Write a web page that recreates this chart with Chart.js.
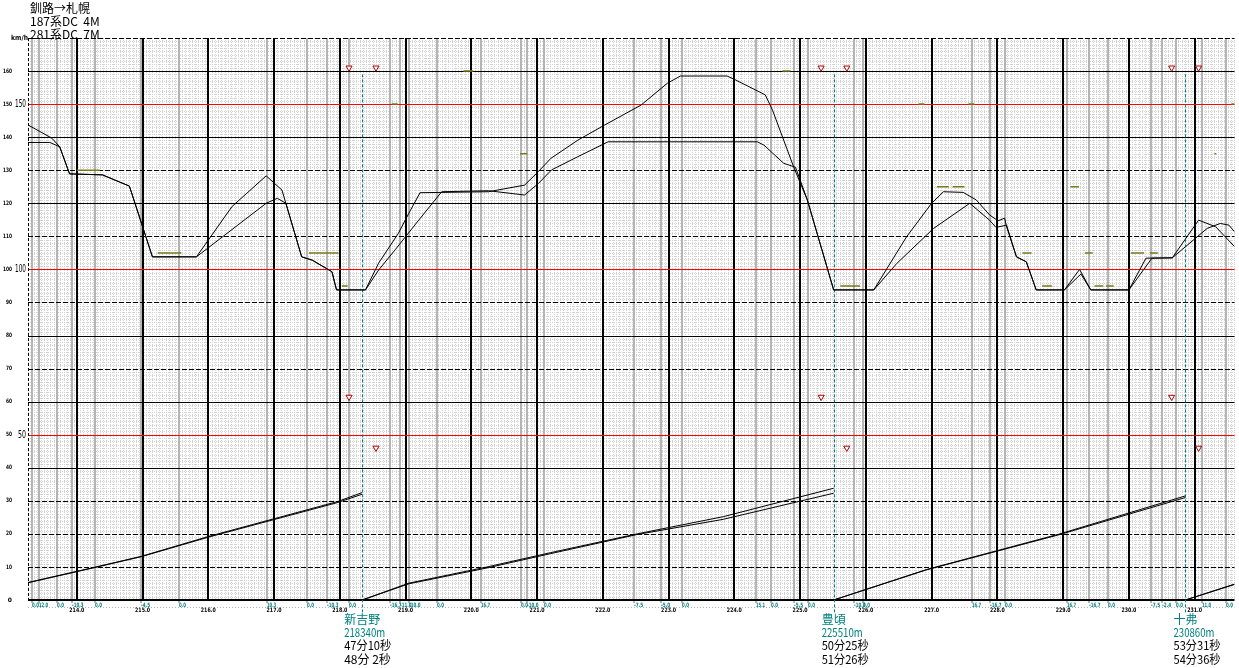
<!DOCTYPE html>
<html><head><meta charset="utf-8">
<script src="https://cdn.jsdelivr.net/npm/chart.js@4/dist/chart.umd.min.js"></script>
<style>html,body{margin:0;padding:0;background:#fff;overflow:hidden}#wrap{width:1239px;height:668px;position:relative}</style>
</head><body><div id="wrap"><canvas id="c" width="1239" height="668"></canvas></div>
<script>
// ---------- data ----------
const titleLines = ["釧路→札幌", "187系DC  4M", "281系DC  7M"];
const kmTicks = [214,215,216,217,218,219,220,221,222,223,224,225,226,227,228,229,230,231];
const kmTickLabels = ["214.0","215.0","216.0","217.0","218.0","219.0","220.0","221.0","222.0","223.0","224.0","225.0","226.0","227.0","228.0","229.0","230.0","231.0"];
const speedTicks = [0,10,20,30,40,50,60,70,80,90,100,110,120,130,140,150,160];
const speedMajorLabels = [50,100,150];

// gradient change points (km) and gradient labels (‰)
const gradeKm = [213.32,213.42,213.70,213.92,214.27,214.97,215.56,216.89,217.50,217.80,218.14,218.77,218.91,219.05,219.48,220.15,220.76,220.85,221.11,222.48,222.89,223.21,224.33,224.56,224.91,225.12,225.82,225.95,227.61,227.89,228.12,229.06,229.39,229.68,230.33,230.50,230.71,231.11,231.47];
const gradeLabels = ["0.0","12.0","0.0","-10.3","0.0","-4.5","0.0","10.3","0.0","-10.3","0.0","-16.7","-11.0","-10.0","0.0","16.7","0.0","-10.0","0.0","-7.5","-5.0","0.0","15.1","0.0","-5.5","0.0","-10.3","0.0","16.7","-16.7","0.0","16.7","-16.7","0.0","-7.5","-2.4","0.0","11.0","0.0"];

// stations
const stationNames = ["新吉野","豊頃","十弗"];
const stationKm = [218.34, 225.51, 230.86];
const stationDist = ["218340m","225510m","230860m"];
const stationTimeA = ["47分10秒","50分25秒","53分31秒"];
const stationTimeB = ["48分 2秒","51分26秒","54分36秒"];

// speed curve, train A (faster, thin)
const speedA_km = [213.258,213.44,213.62,213.74,213.89,214.39,214.80,215.15,215.82,216.36,216.88,217.12,217.42,217.58,217.88,217.95,218.39,218.59,218.89,219.05,219.22,220.26,220.81,221.02,221.21,221.62,222.03,222.58,222.98,223.18,223.89,224.00,224.47,224.58,224.90,225.11,225.51,226.12,226.62,227.00,227.18,227.48,227.68,227.88,228.01,228.11,228.14,228.29,228.44,228.59,229.02,229.25,229.42,230.00,230.26,230.66,231.06,231.32,231.606];
const speedA_kmh = [143.7,141.7,139.7,137.1,128.9,128.6,125.2,103.8,103.8,119.0,128.3,124.0,103.8,102.8,99.3,93.8,93.8,101.9,110.9,117.0,123.2,123.5,125.5,129.6,133.6,139.1,143.7,149.7,156.3,158.5,158.5,157.5,152.8,148.2,131.1,121.0,93.8,93.8,109.9,120.0,123.5,123.3,121.0,116.5,114.7,115.5,112.9,103.8,102.3,93.8,93.8,100.0,93.8,93.8,103.4,103.5,114.9,112.9,106.9];

// speed curve, train B
const speedB_km = [213.258,213.59,213.74,213.89,214.39,214.80,215.15,215.82,216.88,217.05,217.18,217.42,217.58,217.88,217.95,218.39,218.59,218.84,219.20,219.55,220.26,220.81,221.02,221.22,221.62,222.08,224.35,224.45,224.75,224.93,225.11,225.51,226.12,226.47,227.03,227.58,227.88,227.98,228.14,228.29,228.44,228.59,229.02,229.27,229.42,230.00,230.35,230.66,231.19,231.39,231.52,231.606];
const speedB_kmh = [138.4,138.4,137.1,128.9,128.6,125.2,103.8,103.8,120.0,121.5,120.0,103.8,102.8,99.3,93.8,93.8,99.8,105.9,114.9,123.5,123.8,122.5,126.0,130.1,134.1,138.6,138.6,137.6,132.1,130.9,121.0,93.8,93.8,101.8,112.4,120.0,114.9,112.7,113.4,103.8,102.3,93.8,93.8,98.6,93.8,93.8,103.4,103.5,112.4,113.9,113.4,111.4];

// running time curves (minutes since last station)
const timeSeg1_km = [213.258,214.27,214.98,216.00,217.97,218.34];
const timeSeg1_A  = [0.52,0.98,1.31,1.90,2.95,3.20];
const timeSeg1_B  = [0.53,0.99,1.32,1.92,2.98,3.25];
const timeSeg2_km = [218.34,219.05,220.24,221.20,222.52,223.83,225.51];
const timeSeg2_A  = [0,0.49,0.97,1.40,1.98,2.44,3.23];
const timeSeg2_B  = [0,0.51,1.00,1.43,2.00,2.52,3.38];
const timeSeg3_km = [225.51,226.92,228.95,230.86];
const timeSeg3_A  = [0,0.91,1.98,3.10];
const timeSeg3_B  = [0,0.92,2.00,3.15];
const timeSeg4_km = [230.86,231.606];
const timeSeg4_A  = [0,0.48];
const timeSeg4_B  = [0,0.47];

// brake / notch markers
const markKm = [218.14,218.55,225.32,225.71,230.65,231.06];
const markTop_kmh = [161,161,161,161,161,161];
const markLow_kmh = [61.4,46,61.4,46,61.4,46];

// speed limit marks
const limitFromKm = [214.00,215.23,217.53,218.03,218.79,219.88,220.74,224.73,225.61,226.80,227.08,227.32,227.56,228.38,228.68,229.11,229.33,229.48,229.65,230.03,230.32,231.30,231.56];
const limitToKm   = [214.35,215.59,217.98,218.12,218.88,220.03,220.85,224.85,225.91,226.89,227.26,227.50,227.65,228.52,228.83,229.24,229.45,229.61,229.77,230.23,230.44,231.33,231.61];
const limitKmh    = [130,105,105,95,150,160,135,160,95,150,125,125,150,105,95,125,105,95,95,105,105,135,150];

// ---------- build ----------
const zip = (xs, ys) => xs.map((v,i)=>({x:v, y:ys[i]}));
const limitData = [];
limitFromKm.forEach((k,i)=>{ limitData.push({x:k,y:limitKmh[i]},{x:limitToKm[i],y:limitKmh[i]},{x:limitToKm[i],y:null}); });
const segA = [], segB = [];
[[timeSeg1_km,timeSeg1_A,timeSeg1_B],[timeSeg2_km,timeSeg2_A,timeSeg2_B],[timeSeg3_km,timeSeg3_A,timeSeg3_B],[timeSeg4_km,timeSeg4_A,timeSeg4_B]].forEach(([k,a,b])=>{
  segA.push(...zip(k,a), {x:k[k.length-1], y:null});
  segB.push(...zip(k,b), {x:k[k.length-1], y:null});
});

const redSet = new Set([50,100,150]);
const dashSet = new Set([170,130,110,90,70,30,20,10]);

const gridPlugin = {
  id:'runGrid',
  beforeDatasetsDraw(chart){
    const {ctx, chartArea:a, scales:{x,y}} = chart;
    ctx.save();
    // fine dotted background grid
    ctx.lineWidth = 1; ctx.strokeStyle = '#d2d2d2'; ctx.setLineDash([1,1]);
    ctx.beginPath();
    for (let i = Math.ceil(x.min*20); i/20 <= x.max; i++){
      const px = Math.round(x.getPixelForValue(i/20)) + 0.5;
      ctx.moveTo(px, a.top); ctx.lineTo(px, a.bottom);
    }
    for (let v = 1; v < 170; v++){
      const py = Math.round(y.getPixelForValue(v)) + 0.5;
      ctx.moveTo(a.left, py); ctx.lineTo(a.right, py);
    }
    ctx.stroke();
    // gradient change lines
    ctx.setLineDash([]); ctx.strokeStyle = '#b4b4b4'; ctx.lineWidth = 2;
    ctx.beginPath();
    gradeKm.forEach(k=>{ const px = Math.round(x.getPixelForValue(k)); ctx.moveTo(px, a.top); ctx.lineTo(px, a.bottom+3); });
    ctx.stroke();
    // km lines
    ctx.strokeStyle = '#000'; ctx.lineWidth = 2;
    ctx.beginPath();
    kmTicks.forEach(k=>{ const px = Math.round(x.getPixelForValue(k)); ctx.moveTo(px, a.top); ctx.lineTo(px, a.bottom); });
    ctx.stroke();
    // horizontal lines
    ctx.lineWidth = 1;
    for (let v = 10; v <= 170; v += 10){
      const py = Math.round(y.getPixelForValue(v)) + 0.5;
      ctx.strokeStyle = redSet.has(v) ? '#ff0000' : '#000';
      ctx.setLineDash(dashSet.has(v) ? [5,2] : []);
      ctx.beginPath(); ctx.moveTo(a.left, py); ctx.lineTo(a.right, py); ctx.stroke();
    }
    // left border
    ctx.setLineDash([3,2]); ctx.strokeStyle='#000';
    ctx.beginPath(); ctx.moveTo(a.left+0.5, a.top); ctx.lineTo(a.left+0.5, a.bottom); ctx.stroke();
    // axis
    ctx.setLineDash([]); ctx.lineWidth = 2;
    ctx.beginPath(); ctx.moveTo(a.left, a.bottom); ctx.lineTo(a.right, a.bottom); ctx.stroke();
    // dotted baseline under axis
    ctx.lineWidth = 1; ctx.strokeStyle = '#b0b0b0'; ctx.setLineDash([1,2]);
    ctx.beginPath(); ctx.moveTo(a.left, a.bottom+7.5); ctx.lineTo(a.right, a.bottom+7.5); ctx.stroke();
    // station lines
    ctx.strokeStyle = '#008080'; ctx.setLineDash([3,2]); ctx.lineWidth = 1;
    stationKm.forEach(k=>{
      const px = Math.round(x.getPixelForValue(k)) + 0.5;
      ctx.beginPath(); ctx.moveTo(px, y.getPixelForValue(159)); ctx.lineTo(px, a.bottom+13); ctx.stroke();
    });
    ctx.restore();
  },
  afterDraw(chart){
    const {ctx, chartArea:a, scales:{x,y}} = chart;
    ctx.save();
    ctx.fillStyle = '#000';
    ctx.textBaseline = 'middle'; ctx.textAlign = 'left';
    ctx.font = '12px "Noto Sans CJK JP"';
    titleLines.forEach((t,i)=>ctx.fillText(t, 30, 8 + i*13));
    ctx.font = 'bold 7px "DejaVu Sans"';
    ctx.fillText('km/h', 11, 38, 17);
    // y labels
    ctx.textAlign = 'right';
    speedTicks.forEach(v=>{
      ctx.font = 'bold 6px "DejaVu Sans"';
      const py = y.getPixelForValue(v);
      ctx.fillText(String(v), 12, py, v >= 100 ? 9 : 6);
    });
    ctx.font = '11px "DejaVu Sans"';
    speedMajorLabels.forEach(v=>{
      ctx.fillText(String(v), 26, y.getPixelForValue(v), v >= 100 ? 11 : 8);
    });
    // km labels
    ctx.textAlign = 'center';
    ctx.font = 'bold 6px "DejaVu Sans"';
    kmTicks.forEach((k,i)=>ctx.fillText(kmTickLabels[i], x.getPixelForValue(k), a.bottom+10, 15));
    // gradient labels
    ctx.textAlign = 'left'; ctx.fillStyle = '#008080';
    gradeKm.forEach((k,i)=>{
      const px = Math.round(x.getPixelForValue(k));
      ctx.fillText(gradeLabels[i], px, a.bottom+5, gradeLabels[i].length*2.3);
    });
    // station labels
    ctx.font = '12px "Noto Sans CJK JP"';
    stationKm.forEach((k,i)=>{
      const px = x.getPixelForValue(k);
      const left = px - ctx.measureText(stationNames[i]).width/2;
      ctx.fillStyle = '#008080';
      ctx.fillText(stationNames[i], left, 619);
      ctx.fillText(stationDist[i], left, 632, 41);
      ctx.fillStyle = '#000';
      ctx.fillText(stationTimeA[i], left, 645, 47);
      ctx.fillText(stationTimeB[i], left, 659, 47);
    });
    ctx.restore();
  }
};

new Chart(document.getElementById('c'), {
  type: 'line',
  data: {
    datasets: [
      {data: zip(speedA_km, speedA_kmh), borderColor:'#000', borderWidth:1, yAxisID:'y'},
      {data: zip(speedB_km, speedB_kmh), borderColor:'#000', borderWidth:1, yAxisID:'y'},
      {data: segA, borderColor:'#000', borderWidth:1, yAxisID:'yt', spanGaps:false},
      {data: segB, borderColor:'#000', borderWidth:1, yAxisID:'yt', spanGaps:false},
      {data: limitData, borderColor:'#7a7a1a', borderWidth:1.5, yAxisID:'y', spanGaps:false},
      {data: zip(markKm, markTop_kmh), showLine:false, yAxisID:'y', pointStyle:'triangle', rotation:180, pointRadius:3.5, pointBorderColor:'#b00000', pointBackgroundColor:'#fff', pointBorderWidth:1},
      {data: zip(markKm, markLow_kmh), showLine:false, yAxisID:'y', pointStyle:'triangle', rotation:180, pointRadius:3.5, pointBorderColor:'#b00000', pointBackgroundColor:'#fff', pointBorderWidth:1}
    ]
  },
  options: {
    responsive:false, animation:false, devicePixelRatio:1,
    parsing:false, normalized:true,
    layout:{padding:{left:28, right:0, top:38, bottom:68}},
    elements:{point:{radius:0, hoverRadius:0}, line:{tension:0}},
    plugins:{legend:{display:false}, tooltip:{enabled:false}},
    events:[],
    scales:{
      x:{type:'linear', min:213.258, max:231.606, display:false},
      y:{type:'linear', min:0, max:170, display:false},
      yt:{type:'linear', min:0, max:17, display:false}
    }
  },
  plugins:[gridPlugin]
});
</script>
</body></html>
